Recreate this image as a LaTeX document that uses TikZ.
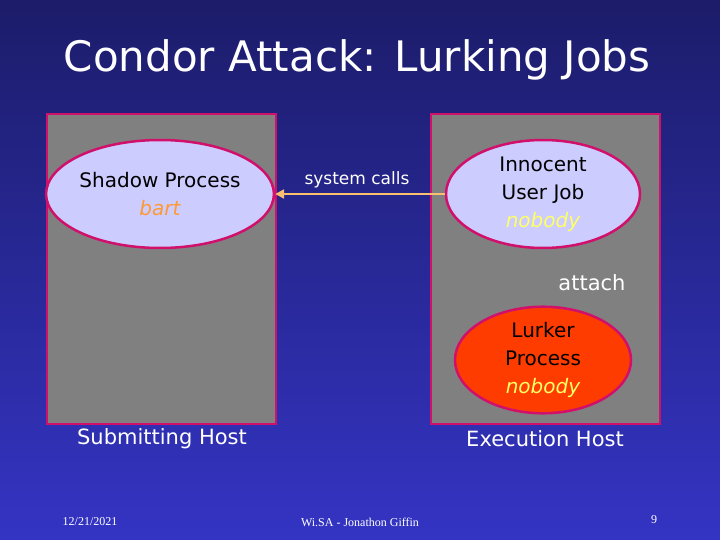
\documentclass[tikz,border=0pt]{standalone}
\usepackage{fontspec}
\setmainfont{DejaVu Sans}
\newfontfamily\footfont{Liberation Serif}
\usetikzlibrary{shapes.geometric,arrows.meta}
\definecolor{bgtop}{HTML}{1C1C6A}
\definecolor{bgbot}{HTML}{3434C4}
\definecolor{brd}{HTML}{D0106A}
\definecolor{boxg}{HTML}{808080}
\definecolor{lav}{HTML}{CCCCFF}
\definecolor{lurk}{HTML}{FF3C00}
\definecolor{yel}{HTML}{FFFF66}
\definecolor{org}{HTML}{FF9933}
\definecolor{arr}{HTML}{F8C070}
\tikzset{
  host/.style={draw=brd,fill=boxg,line width=2.5pt},
  proc/.style={ellipse,draw=brd,line width=2.5pt,fill=lav,minimum width=194pt,minimum height=108pt,align=center,font=\fontsize{20}{28}\selectfont,inner sep=0pt},
  lbl/.style={text=white,font=\fontsize{21}{25}\selectfont},
  foot/.style={text=white,font=\footfont\fontsize{12}{14}\selectfont}
}
\begin{document}
\begin{tikzpicture}[x=1pt,y=-1pt]
\shade[top color=bgtop,bottom color=bgbot] (0,0) rectangle (720,540);
\useasboundingbox (0,0) rectangle (720,540);
\node[text=white,font=\fontsize{42}{48}\selectfont] (title) at (357,60) {Condor Attack: Lurking Jobs};
\draw[host] (47,114) rectangle (276,424);
\draw[host] (431,114) rectangle (660,424);
\node[proc] (shadow) at (160,194) {Shadow Process\\\textcolor{org}{\itshape bart}};
\node[proc] (inno) at (543,194) {Innocent\\User Job\\\textcolor{yel}{\itshape nobody}};
\node[proc,fill=lurk,minimum width=176pt,minimum height=98pt] (lurker) at (543,360) {Lurker\\Process\\\textcolor{yel}{\itshape nobody}};
\draw[arr,line width=2.5pt,-{Triangle[length=9pt,width=9pt]}] (inno.west) -- (shadow.east);
\node[lbl,font=\fontsize{17}{20}\selectfont] (sc) at (357,180) {system calls};
\node[lbl] (att) at (592,283) {attach};
\node[lbl] (sh) at (162,439) {Submitting Host};
\node[lbl] (eh) at (545,439) {Execution Host};
\node[foot] (d) at (90,522) {12/21/2021};
\node[foot] (w) at (360,522) {Wi.SA - Jonathon Giffin};
\node[foot] (n) at (654,520) {9};
\end{tikzpicture}
\end{document}
